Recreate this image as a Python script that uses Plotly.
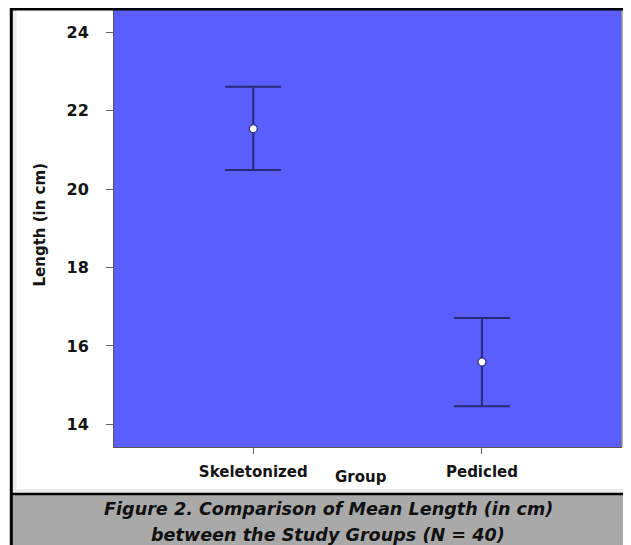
import plotly.graph_objects as go

groups = ["Skeletonized", "Pedicled"]
means = [21.54, 15.59]
err_plus = [1.07, 1.12]
err_minus = [1.05, 1.13]
y_ticks = [14, 16, 18, 20, 22, 24]

# the page places the figure 8px from the window's top-left corner
OFF = 8
W, H = 631 - OFF, 545 - OFF
L, R, T, B = 114 - OFF, 10, 10 - OFF, 98
pw, ph = W - L - R, H - T - B

def px(x):
    # x given in window pixels
    return (x - OFF - L) / pw

def py(y):
    # y given in window pixels
    return (H - B - (y - OFF)) / ph

navy = "#282a78"
font_main = "DejaVu Sans, Verdana, sans-serif"

fig = go.Figure()
fig.add_trace(go.Scatter(
    x=groups, y=means, mode="markers",
    marker=dict(size=8, color="white", line=dict(color=navy, width=1.2)),
    error_y=dict(type="data", symmetric=False, array=err_plus, arrayminus=err_minus,
                 color=navy, thickness=2, width=28),
    showlegend=False, hoverinfo="skip",
))

fig.update_layout(
    width=W, height=H,
    margin=dict(l=L, r=R, t=T, b=B, pad=0),
    paper_bgcolor="white",
    plot_bgcolor="#5a5eff",
    font=dict(family=font_main, color="#141414"),
    xaxis=dict(
        type="category", range=[-0.609, 1.608],
        showgrid=False, zeroline=False,
        showline=True, linecolor="#555555", linewidth=1, mirror=True,
        ticks="outside", ticklen=6, tickcolor="#666666", tickwidth=1,
        tickfont=dict(family=font_main, size=15, color="#141414", weight="bold"),
        ticklabelstandoff=5,
    ),
    yaxis=dict(
        range=[13.421, 24.569], tickvals=y_ticks,
        showgrid=False, zeroline=False,
        showline=True, linecolor="#555555", linewidth=1, mirror=True,
        ticks="outside", ticklen=7, tickcolor="#666666", tickwidth=1,
        tickfont=dict(family=font_main, size=16, color="#141414", weight="bold"),
        ticklabelstandoff=14,
    ),
)

shapes = [
    # light gray inner strips
    dict(type="rect", xref="paper", yref="paper", x0=px(12.5), x1=px(16.7), y0=py(493), y1=py(10),
         fillcolor="#ececec", line=dict(width=0), layer="below"),
    dict(type="rect", xref="paper", yref="paper", x0=px(12.5), x1=px(631), y0=py(493), y1=py(489),
         fillcolor="#ececec", line=dict(width=0), layer="below"),
    # shadow on plot's right edge
    dict(type="line", xref="paper", yref="paper", x0=px(622), x1=px(622), y0=py(447), y1=py(10),
         line=dict(color="#9a9a9a", width=1.5)),
    # caption band
    dict(type="rect", xref="paper", yref="paper", x0=px(10), x1=px(631), y0=py(545), y1=py(494),
         fillcolor="#a9a9a9", line=dict(width=0)),
    dict(type="line", xref="paper", yref="paper", x0=px(10), x1=px(631), y0=py(494), y1=py(494),
         line=dict(color="black", width=2.5)),
    # outer black border
    dict(type="line", xref="paper", yref="paper", x0=px(10), x1=px(631), y0=py(9), y1=py(9),
         line=dict(color="black", width=3)),
    dict(type="line", xref="paper", yref="paper", x0=px(11.3), x1=px(11.3), y0=py(545), y1=py(8),
         line=dict(color="black", width=3)),
]
fig.update_layout(shapes=shapes)

ann = [
    dict(text="Length (in cm)", x=px(39.5), y=py(225), textangle=-90,
         font=dict(family=font_main, size=15, color="#141414", weight="bold")),
    dict(text="Group", x=px(361), y=py(477),
         font=dict(family=font_main, size=15, color="#141414", weight="bold")),
    dict(text="Figure 2. Comparison of Mean Length (in cm)", x=px(328), y=py(508.5),
         font=dict(family=font_main, size=17.6, color="#111111", weight="bold", style="italic")),
    dict(text="between the Study Groups (N = 40)", x=px(328), y=py(534.5),
         font=dict(family=font_main, size=17.6, color="#111111", weight="bold", style="italic")),
]
for a in ann:
    a.update(xref="paper", yref="paper", showarrow=False, xanchor="center", yanchor="middle")
fig.update_layout(annotations=ann)

fig.write_html("out.html")
